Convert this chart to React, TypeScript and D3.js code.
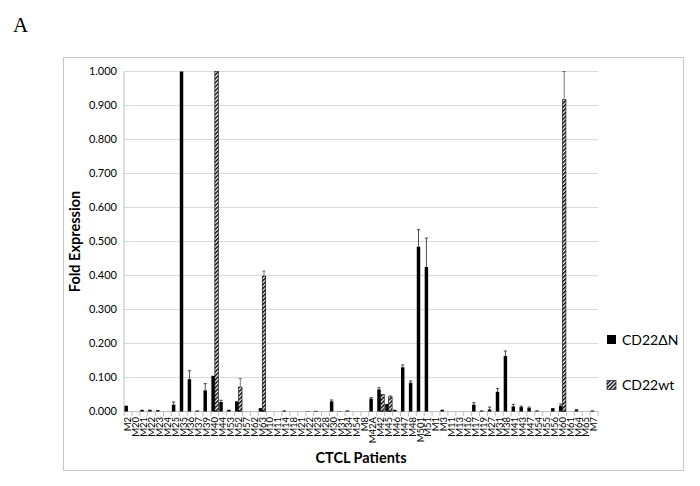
import React from "react";
import * as d3 from "d3";

const categories = [
  "M2", "M20", "M21", "M22", "M23", "M24", "M25", "M35", "M36", "M37",
  "M39", "M40", "M44", "M53", "M52", "M57", "M62", "M63", "M10", "M11",
  "M14", "M18", "M21", "M22", "M23", "M28", "M30", "M31", "M34", "M54",
  "M8", "M42A", "M42", "M45", "M46", "M47", "M48", "M501", "M51", "M1",
  "M3", "M11", "M13", "M16", "M17", "M19", "M27", "M31", "M38", "M41",
  "M43", "M47", "M54", "M55", "M56", "M60", "M61", "M64", "M65", "M7",
];

const cd22dN = [
  0.017, 0, 0.005, 0.005, 0.004, 0, 0.02, 1.0, 0.095, 0.003,
  0.062, 0.105, 0.028, 0.005, 0.03, 0, 0, 0.01, 0, 0,
  0.003, 0, 0, 0.001, 0.002, 0, 0.03, 0.001, 0.003, 0,
  0, 0.038, 0.065, 0.022, 0.005, 0.13, 0.085, 0.485, 0.425, 0,
  0.005, 0, 0, 0, 0.02, 0.003, 0.006, 0.058, 0.163, 0.015,
  0.013, 0.01, 0.003, 0, 0.01, 0.017, 0, 0.004, 0, 0.003,
];
const cd22dNErr = [
  0, 0, 0, 0, 0, 0, 0.008, 0, 0.025, 0,
  0.02, 0, 0.005, 0, 0, 0, 0, 0, 0, 0,
  0, 0, 0, 0, 0, 0, 0.004, 0, 0, 0,
  0, 0.003, 0.005, 0, 0, 0.007, 0.005, 0.05, 0.085, 0,
  0, 0, 0, 0, 0.006, 0, 0.007, 0.01, 0.015, 0.006,
  0.003, 0.003, 0, 0, 0, 0.005, 0, 0.002, 0, 0,
];
const cd22wt = [
  0, 0, 0, 0, 0, 0, 0, 0, 0, 0,
  0, 1.0, 0, 0, 0.072, 0, 0, 0.398, 0, 0,
  0, 0, 0, 0, 0, 0, 0, 0, 0, 0,
  0, 0, 0.05, 0.043, 0, 0, 0, 0, 0, 0,
  0, 0, 0, 0, 0, 0, 0, 0, 0, 0,
  0, 0, 0, 0, 0, 0.917, 0, 0, 0, 0,
];
const cd22wtErr = [
  0, 0, 0, 0, 0, 0, 0, 0, 0, 0,
  0, 0, 0, 0, 0.025, 0, 0, 0.015, 0, 0,
  0, 0, 0, 0, 0, 0, 0, 0, 0, 0,
  0, 0, 0, 0.003, 0, 0, 0, 0, 0, 0,
  0, 0, 0, 0, 0, 0, 0, 0, 0, 0,
  0, 0, 0, 0, 0, 0.083, 0, 0, 0, 0,
];
const yTicks = [0, 0.1, 0.2, 0.3, 0.4, 0.5, 0.6, 0.7, 0.8, 0.9, 1.0];
const seriesNames = ["CD22\u0394N", "CD22wt"];

const FONT = "Lato, 'Open Sans', 'Liberation Sans', sans-serif";

export default function App() {
  const W = 700;
  const H = 486;
  const idx = d3.range(categories.length);
  const x = d3.scaleBand<number>().domain(idx).range([124, 598]).paddingInner(0).paddingOuter(0);
  const y = d3.scaleLinear().domain([0, 1]).range([411.5, 71.5]);
  const bw = x.bandwidth() * 0.44;
  const fmt = d3.format(".3f");
  const cx = (i: number) => (x(i) as number) + x.bandwidth() / 2;
  const clampY = (v: number) => y(Math.min(v, 1));

  const errBar = (xc: number, v: number, e: number, key: string, color: string) => {
    if (!e || v >= 1) return null;
    const y1 = clampY(v);
    const y2 = clampY(v + e);
    return (
      <g key={key} stroke={color} strokeWidth={0.8}>
        <line x1={xc} x2={xc} y1={y1} y2={y2} />
        <line x1={xc - 1.6} x2={xc + 1.6} y1={y2} y2={y2} />
      </g>
    );
  };

  return (
    <svg
      width={W}
      height={H}
      style={{ position: "absolute", left: 0, top: 0, background: "#fff" }}
      fontFamily={FONT}
    >
      <defs>
        <pattern id="hatch" width="2.8" height="2.8" patternUnits="userSpaceOnUse" patternTransform="rotate(45)">
          <rect width="2.8" height="2.8" fill="#fff" />
          <line x1="0.7" y1="0" x2="0.7" y2="2.8" stroke="#000" strokeWidth="1.5" />
        </pattern>
      </defs>
      <rect x={0} y={0} width={W} height={H} fill="#fff" />
      <text x={13} y={32} fontFamily="'Liberation Serif', 'DejaVu Serif', serif" fontSize={21}>A</text>
      <rect x={63.5} y={57.5} width={620} height={413} fill="none" stroke="#c8c8c8" strokeWidth={1} />

      {yTicks.map((t) => (
        <line key={"g" + t} x1={124} x2={598} y1={y(t)} y2={y(t)} stroke="#d9d9d9" strokeWidth={1} />
      ))}
      {yTicks.map((t) => (
        <text key={"yl" + t} x={117} y={y(t)} dy="0.35em" textAnchor="end" fontSize={11} fill="#000">
          {fmt(t)}
        </text>
      ))}
      <line x1={124} x2={124} y1={y(1)} y2={y(0)} stroke="#bfbfbf" />
      <line x1={124} x2={598} y1={y(0)} y2={y(0)} stroke="#bfbfbf" />
      {idx.concat([categories.length]).map((i) => {
        const xx = i < categories.length ? (x(i) as number) : 598;
        return <line key={"t" + i} x1={xx} x2={xx} y1={y(0)} y2={y(0) + 4.5} stroke="#bfbfbf" />;
      })}

      {idx.map((i) =>
        cd22dN[i] > 0 ? (
          <rect
            key={"b" + i}
            x={cx(i) - bw}
            y={clampY(cd22dN[i])}
            width={bw}
            height={y(0) - clampY(cd22dN[i])}
            fill="#000"
          />
        ) : null
      )}
      {idx.map((i) =>
        cd22wt[i] > 0 ? (
          <rect
            key={"h" + i}
            x={cx(i)}
            y={clampY(cd22wt[i])}
            width={bw}
            height={y(0) - clampY(cd22wt[i])}
            fill="url(#hatch)"
            stroke="#000"
            strokeWidth={0.6}
          />
        ) : null
      )}
      {idx.map((i) => errBar(cx(i) - bw / 2, cd22dN[i], cd22dNErr[i], "e" + i, "#222"))}
      {idx.map((i) => errBar(cx(i) + bw / 2, cd22wt[i], cd22wtErr[i], "f" + i, "#555"))}

      {idx.map((i) => (
        <text
          key={"xl" + i}
          x={cx(i)}
          y={417}
          transform={`rotate(-90, ${cx(i)}, 417)`}
          textAnchor="end"
          dy="0.35em"
          fontSize={9.5}
          fill="#000"
        >
          {categories[i]}
        </text>
      ))}

      <text x={361} y={463} textAnchor="middle" fontSize={14.5} fontWeight="bold">CTCL Patients</text>
      <text
        x={0}
        y={0}
        transform={`translate(80, ${(y(0) + y(1)) / 2}) rotate(-90)`}
        textAnchor="middle"
        fontSize={14.5}
        fontWeight="bold"
      >
        Fold Expression
      </text>

      <rect x={607} y={335} width={9} height={9} fill="#000" />
      <text x={622} y={345} fontSize={14}>{seriesNames[0]}</text>
      <rect x={607} y={380.5} width={9} height={9} fill="url(#hatch)" stroke="#000" strokeWidth={0.6} />
      <text x={622} y={390} fontSize={14}>{seriesNames[1]}</text>
    </svg>
  );
}
